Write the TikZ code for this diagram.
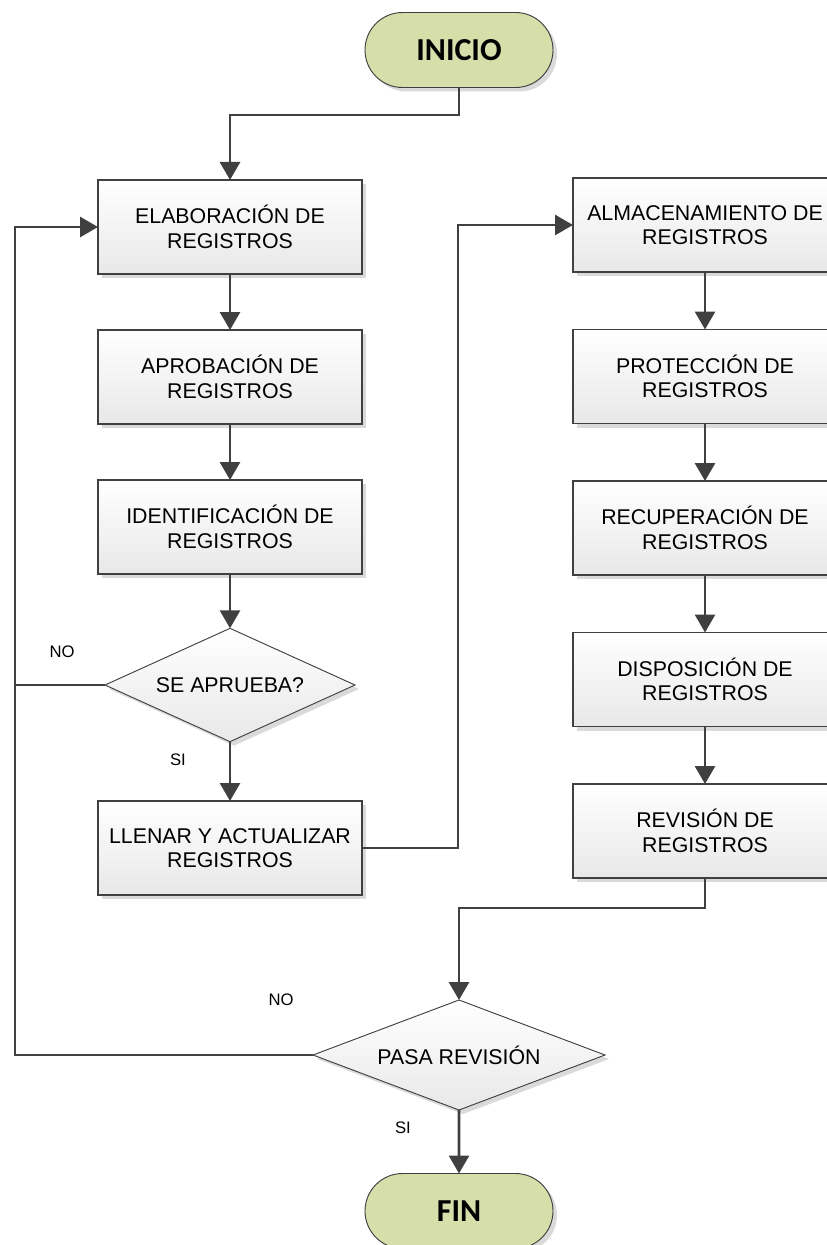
\documentclass[tikz,border=0pt]{standalone}
\usepackage{fontspec}
\setmainfont{Liberation Sans}
\newfontfamily\termfont{Carlito}
\usetikzlibrary{arrows.meta,shapes.geometric,shapes.misc,shadows}
\definecolor{linegray}{RGB}{64,64,64}
\definecolor{termgreen}{RGB}{214,222,170}
\definecolor{boxbottom}{RGB}{232,232,232}
\definecolor{shadowgray}{RGB}{218,218,218}
\begin{document}
\begin{tikzpicture}[x=0.75pt,y=-0.75pt,
  shade/.style={drop shadow={shadow xshift=3pt,shadow yshift=-3pt,fill=shadowgray,opacity=1}},
  stepbox/.style={rectangle,draw=linegray,line width=0.9pt,top color=white,bottom color=boxbottom,
    minimum width=198pt,minimum height=70.5pt,inner sep=0pt,outer sep=0pt,align=center,
    font=\fontsize{16}{18.5}\selectfont,shade},
  decision/.style={diamond,draw=linegray,line width=0.7pt,top color=white,bottom color=boxbottom,
    inner sep=0pt,outer sep=0pt,align=center,font=\fontsize{16}{18.5}\selectfont,shade},
  terminal/.style={rounded rectangle,draw=linegray,line width=0.7pt,fill=termgreen,
    minimum width=141pt,minimum height=56.25pt,inner sep=0pt,outer sep=0pt,
    font=\termfont\bfseries\fontsize{24}{28}\selectfont,shade},
  flow/.style={draw=linegray,line width=2.2pt},
  arr/.style={flow,-{Triangle[length=13.5pt,width=15pt]}},
  lbl/.style={font=\fontsize{12.5}{14}\selectfont,inner sep=0pt}]
  \useasboundingbox (0,0) rectangle (826,1245);

  % terminals
  \node[terminal] (inicio) at (459,50) {INICIO};
  \node[terminal] (fin) at (459,1211) {FIN};

  % left column
  \node[stepbox] (b1) at (230,227) {ELABORACIÓN DE\\REGISTROS};
  \node[stepbox] (b2) at (230,377) {APROBACIÓN DE\\REGISTROS};
  \node[stepbox] (b3) at (230,527) {IDENTIFICACIÓN DE\\REGISTROS};
  \node[decision,shape aspect=2.2,minimum width=187.5pt,minimum height=85pt] (d1) at (230,685) {SE APRUEBA?};
  \node[stepbox] (b4) at (230,848) {LLENAR Y ACTUALIZAR\\REGISTROS};

  % right column
  \node[stepbox] (r1) at (705,225) {ALMACENAMIENTO DE\\REGISTROS};
  \node[stepbox] (r2) at (705,376.5) {PROTECCIÓN DE\\REGISTROS};
  \node[stepbox] (r3) at (705,528) {RECUPERACIÓN DE\\REGISTROS};
  \node[stepbox] (r4) at (705,679.5) {DISPOSICIÓN DE\\REGISTROS};
  \node[stepbox] (r5) at (705,831) {REVISIÓN DE\\REGISTROS};

  % final check
  \node[decision,shape aspect=2.65,minimum width=219pt,minimum height=82.5pt] (d2) at (459,1055) {PASA REVISIÓN};

  % bend points
  \coordinate (k1) at (230,115);
  \coordinate (k2) at (458,848);
  \coordinate (k3) at (459,908);
  \coordinate (k4) at (15,685);
  \coordinate (k5) at (15,1055);

  % connectors
  \draw[arr] (inicio.south) -- (inicio.south |- k1) -| (b1.north);
  \draw[arr] (b1) -- (b2);
  \draw[arr] (b2) -- (b3);
  \draw[arr] (b3) -- (d1);
  \draw[arr] (d1) -- (b4);
  \draw[arr] (b4.east) -- (k2) |- (r1.west);
  \draw[arr] (r1) -- (r2);
  \draw[arr] (r2) -- (r3);
  \draw[arr] (r3) -- (r4);
  \draw[arr] (r4) -- (r5);
  \draw[arr] (r5.south) |- (k3) -- (d2.north);
  \draw[arr] (d2) -- (fin);
  \draw[flow] (d1.west) -- (k4);
  \draw[arr] (d2.west) -- (k5) |- (b1.west);

  % branch labels
  \node[lbl] (no1) at (62,652) {NO};
  \node[lbl] (si1) at (178,760) {SI};
  \node[lbl] (no2) at (281,1000) {NO};
  \node[lbl] (si2) at (403,1128) {SI};
\end{tikzpicture}
\end{document}
